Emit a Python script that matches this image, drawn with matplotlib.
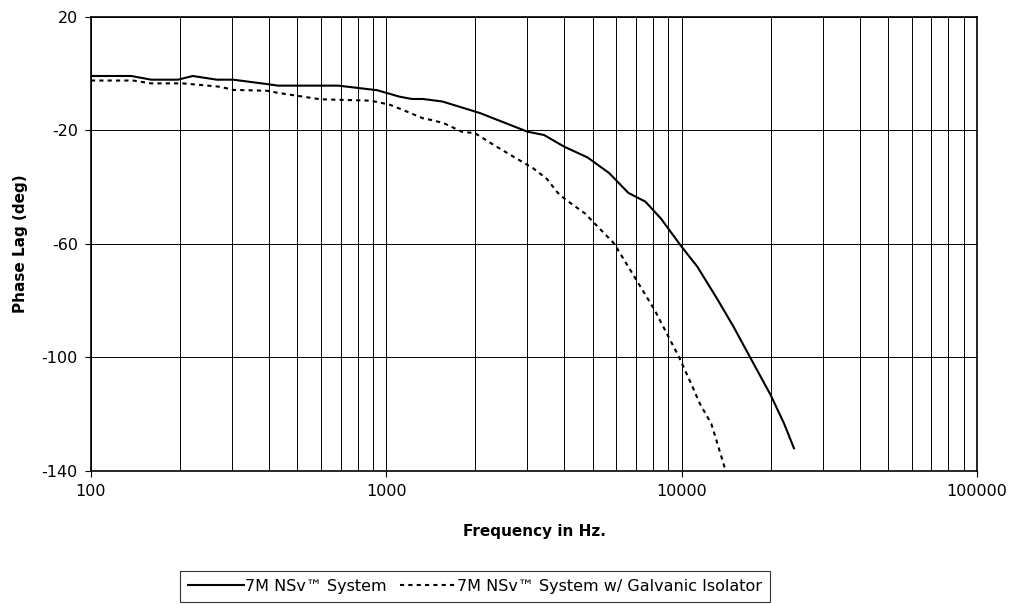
import numpy as np
import matplotlib
matplotlib.use("Agg")
import matplotlib.pyplot as plt
from matplotlib.ticker import FixedLocator, LogLocator, NullFormatter

plt.rcParams["font.family"] = ["DejaVu Sans"]

# 7M NSv System
freq_sys = [100, 137, 160, 197, 221, 267, 303, 398, 430, 688, 930, 1110, 1220,
            1330, 1550, 2080, 3000, 3420, 4000, 4800, 5680, 6600, 7540, 8500,
            10000, 11300, 13250, 14970, 17000, 20000, 22200, 24000]
phase_sys = [-0.8, -0.8, -2.1, -2.1, -0.8, -2.1, -2.1, -3.7, -4.2, -4.2, -5.8,
             -8.1, -8.9, -8.9, -9.8, -13.9, -20.4, -21.6, -25.7, -29.5, -35.0,
             -42.0, -45.1, -51.0, -61.0, -68.0, -79.7, -89.1, -99.7, -113.2,
             -123.2, -132.0]

# 7M NSv System w/ Galvanic Isolator
freq_iso = [100, 139, 160, 205, 274, 303, 395, 427, 597, 885, 955, 1033, 1140,
            1330, 1450, 1570, 1800, 2000, 2310, 2690, 3140, 3500, 3800, 4040,
            4700, 5900, 7200, 8100, 9200, 9800, 10900, 11500, 12600, 13200, 14000]
phase_iso = [-2.4, -2.4, -3.4, -3.4, -4.6, -5.7, -6.0, -6.7, -9.0, -9.5, -10.2,
             -11.0, -12.8, -15.7, -16.5, -17.5, -20.4, -21.0, -25.1, -29.2,
             -33.3, -37.1, -41.9, -44.3, -49.2, -59.8, -74.5, -83.3, -94.4,
             -99.9, -110.5, -116.1, -123.4, -130.2, -139.0]

labels = ["7M NSv\u2122 System", "7M NSv\u2122 System w/ Galvanic Isolator"]
y_ticks = [20, -20, -60, -100, -140]
x_ticks = [100, 1000, 10000, 100000]

fig = plt.figure(figsize=(10.13, 6.04), dpi=100)
ax = fig.add_axes([0.0898, 0.2202, 0.8747, 0.7517])

ax.plot(freq_sys, phase_sys, color="black", lw=1.5, label=labels[0], zorder=3)
ax.plot(freq_iso, phase_iso, color="black", lw=1.5, linestyle=(0, (2, 2)),
        label=labels[1], zorder=3)

ax.set_xscale("log")
ax.set_xlim(100, 100000)
ax.set_ylim(-140, 20)
ax.xaxis.set_major_locator(FixedLocator(x_ticks))
ax.set_xticklabels([str(t) for t in x_ticks])
ax.xaxis.set_minor_locator(LogLocator(base=10, subs=np.arange(2, 10)))
ax.xaxis.set_minor_formatter(NullFormatter())
ax.yaxis.set_major_locator(FixedLocator(y_ticks))
ax.set_yticklabels([str(t) for t in y_ticks])

ax.grid(True, which="both", axis="x", color="black", lw=0.7)
ax.grid(True, which="major", axis="y", color="black", lw=0.7)
ax.tick_params(axis="x", which="minor", length=0)
ax.tick_params(axis="both", which="major", length=4.5, direction="out",
               labelsize=11.5, pad=5)
for s in ax.spines.values():
    s.set_linewidth(1.2)
    s.set_color("black")

ax.set_xlabel("Frequency in Hz.", fontsize=11, fontweight="bold", labelpad=18)
ax.set_ylabel("Phase Lag (deg)", fontsize=11, fontweight="bold", labelpad=10)

leg = fig.legend(loc="upper center", bbox_to_anchor=(0.469, 0.0546), ncol=2,
                 fontsize=11.5, frameon=True, fancybox=False, handlelength=3.5,
                 handletextpad=0.1, columnspacing=0.8, borderpad=0.5,
                 borderaxespad=0)
leg.get_frame().set_edgecolor("black")
leg.get_frame().set_linewidth(0.8)

fig.savefig("out.png", dpi=100, facecolor="white")
